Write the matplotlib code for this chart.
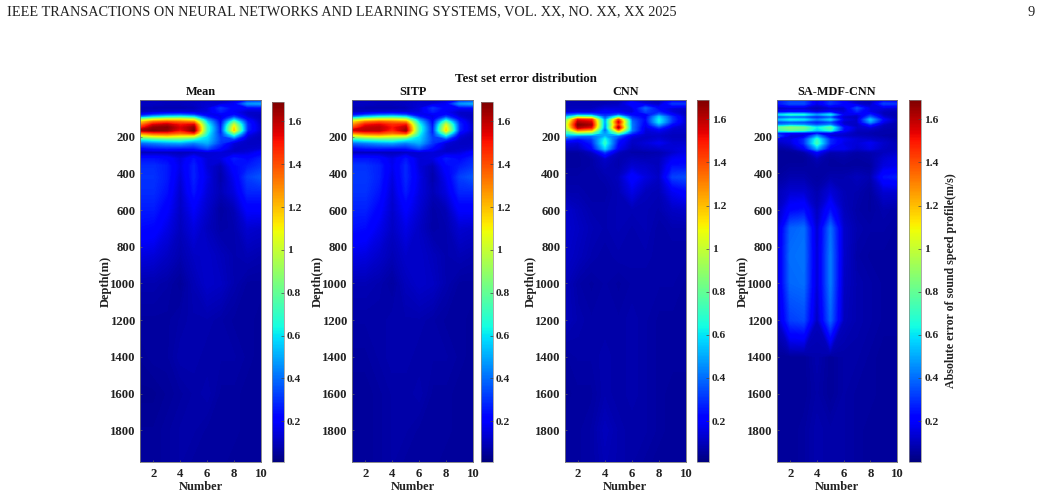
import numpy as np
import matplotlib
matplotlib.use('Agg')
from matplotlib import pyplot as plt
from matplotlib.cm import ScalarMappable
from matplotlib.colors import Normalize

plt.rcParams['font.family'] = ['Liberation Serif', 'DejaVu Serif']

numbers = np.arange(1, 11)
depths = [0, 20, 45, 65, 80, 92, 107, 120, 135, 150, 165, 180, 195, 215, 235, 265, 285,
          320, 360, 420, 500, 600, 700, 850, 1000, 1200, 1400, 1600, 1800, 1973]

mean_err = [
    [.10, .10, .09, .09, .09, .10, .10, .13, .22, .25],
    [.11, .11, .10, .10, .11, .13, .13, .18, .46, .48],
    [.09, .08, .08, .08, .09, .14, .30, .20, .18, .18],
    [.10, .12, .13, .14, .13, .15, .26, .18, .12, .12],
    [.20, .28, .34, .36, .30, .18, .18, .22, .12, .10],
    [.40, .55, .62, .65, .58, .26, .16, .32, .14, .10],
    [.90, 1.05, 1.10, 1.10, 1.02, .44, .18, .55, .20, .10],
    [1.15, 1.35, 1.40, 1.35, 1.30, .56, .20, .78, .25, .10],
    [1.30, 1.55, 1.60, 1.50, 1.55, .65, .22, 1.00, .28, .11],
    [1.45, 1.66, 1.68, 1.55, 1.66, .70, .24, 1.12, .28, .12],
    [1.62, 1.69, 1.66, 1.50, 1.69, .70, .25, 1.16, .27, .12],
    [1.30, 1.40, 1.42, 1.35, 1.45, .65, .26, .85, .20, .10],
    [1.02, 1.12, 1.16, 1.10, 1.08, .60, .30, .58, .15, .10],
    [.62, .68, .72, .74, .64, .56, .32, .30, .12, .10],
    [.38, .42, .46, .48, .42, .50, .30, .14, .11, .11],
    [.20, .24, .25, .24, .24, .34, .22, .12, .12, .13],
    [.09, .09, .09, .09, .10, .13, .14, .12, .14, .20],
    [.24, .24, .22, .15, .24, .14, .15, .26, .22, .27],
    [.29, .29, .26, .16, .27, .14, .09, .22, .26, .30],
    [.30, .30, .26, .14, .27, .16, .07, .18, .32, .36],
    [.29, .29, .24, .12, .25, .14, .09, .15, .28, .28],
    [.26, .26, .20, .11, .19, .12, .06, .09, .20, .20],
    [.23, .22, .16, .10, .15, .10, .07, .08, .13, .12],
    [.15, .14, .11, .08, .11, .12, .10, .08, .09, .08],
    [.08, .08, .07, .05, .09, .12, .11, .08, .06, .06],
    [.06, .06, .06, .07, .08, .08, .07, .06, .06, .05],
    [.05, .06, .06, .08, .08, .07, .07, .07, .06, .05],
    [.04, .04, .05, .06, .07, .08, .06, .06, .05, .05],
    [.05, .05, .06, .07, .07, .06, .06, .06, .05, .05],
    [.05, .05, .06, .07, .06, .06, .06, .05, .05, .05],
]

sitp_err = [
    [.10, .10, .09, .09, .09, .10, .10, .13, .22, .26],
    [.11, .11, .10, .10, .11, .13, .13, .18, .46, .50],
    [.09, .08, .08, .08, .09, .14, .30, .20, .18, .18],
    [.10, .12, .13, .14, .13, .15, .26, .18, .12, .12],
    [.20, .28, .34, .36, .30, .18, .18, .22, .12, .10],
    [.40, .55, .62, .65, .58, .26, .16, .32, .14, .10],
    [.88, 1.02, 1.08, 1.08, 1.00, .44, .18, .55, .20, .10],
    [1.12, 1.32, 1.38, 1.33, 1.28, .56, .20, .78, .25, .10],
    [1.26, 1.50, 1.54, 1.46, 1.50, .65, .22, 1.00, .28, .11],
    [1.38, 1.58, 1.60, 1.50, 1.60, .70, .24, 1.10, .28, .12],
    [1.56, 1.60, 1.60, 1.46, 1.64, .70, .25, 1.14, .27, .12],
    [1.28, 1.38, 1.40, 1.33, 1.42, .65, .26, .85, .20, .10],
    [1.00, 1.10, 1.14, 1.08, 1.06, .60, .30, .58, .15, .10],
    [.62, .68, .72, .74, .64, .56, .32, .30, .12, .10],
    [.38, .42, .46, .48, .42, .50, .30, .14, .11, .11],
    [.20, .24, .25, .24, .24, .34, .22, .12, .12, .13],
    [.09, .09, .09, .09, .10, .13, .14, .12, .14, .20],
    [.25, .25, .23, .16, .25, .14, .15, .26, .22, .27],
    [.30, .30, .27, .17, .28, .14, .09, .22, .26, .30],
    [.31, .31, .27, .15, .28, .16, .07, .18, .32, .36],
    [.30, .30, .25, .13, .26, .15, .09, .15, .28, .28],
    [.27, .27, .21, .12, .20, .13, .07, .09, .20, .20],
    [.24, .23, .17, .11, .16, .11, .07, .08, .13, .12],
    [.16, .15, .12, .09, .12, .12, .10, .08, .09, .08],
    [.09, .09, .08, .06, .10, .12, .11, .08, .06, .06],
    [.07, .07, .07, .08, .08, .08, .07, .06, .06, .05],
    [.06, .06, .07, .08, .08, .07, .07, .07, .06, .05],
    [.05, .05, .06, .07, .07, .08, .06, .06, .05, .05],
    [.05, .05, .06, .07, .07, .06, .06, .06, .05, .05],
    [.05, .05, .06, .07, .06, .06, .06, .05, .05, .05],
]

cnn_err = [
    [.08, .08, .07, .08, .09, .14, .10, .10, .18, .18],
    [.09, .09, .09, .09, .10, .22, .14, .11, .30, .30],
    [.10, .10, .10, .14, .14, .15, .38, .20, .14, .12],
    [.12, .14, .14, .20, .18, .14, .32, .26, .14, .10],
    [.32, .40, .38, .26, .34, .20, .18, .38, .20, .10],
    [.50, .85, .80, .32, .70, .28, .20, .55, .28, .11],
    [.72, 1.50, 1.45, .42, 1.40, .36, .22, .62, .30, .12],
    [.82, 1.60, 1.55, .44, 1.55, .40, .20, .60, .28, .12],
    [.88, 1.68, 1.62, .42, 1.45, .42, .18, .46, .20, .12],
    [.84, 1.60, 1.50, .40, 1.62, .42, .15, .30, .14, .12],
    [.76, 1.30, 1.20, .32, 1.25, .42, .14, .18, .12, .12],
    [.64, .85, .80, .44, .80, .30, .13, .14, .11, .11],
    [.50, .42, .40, .50, .38, .16, .12, .12, .10, .10],
    [.30, .22, .30, .64, .26, .12, .12, .14, .11, .11],
    [.16, .14, .26, .68, .22, .11, .14, .18, .13, .13],
    [.10, .10, .20, .56, .18, .09, .11, .12, .14, .16],
    [.06, .06, .10, .30, .10, .07, .07, .08, .12, .16],
    [.06, .06, .07, .12, .08, .10, .09, .10, .18, .20],
    [.06, .06, .07, .10, .08, .13, .12, .10, .24, .24],
    [.07, .07, .07, .08, .10, .22, .15, .11, .32, .34],
    [.08, .08, .07, .07, .09, .16, .10, .09, .18, .22],
    [.13, .10, .08, .08, .09, .09, .09, .08, .11, .12],
    [.13, .11, .09, .08, .09, .08, .09, .07, .08, .08],
    [.12, .10, .08, .07, .08, .08, .08, .07, .07, .07],
    [.10, .07, .06, .07, .06, .07, .07, .07, .07, .06],
    [.10, .08, .07, .07, .07, .08, .07, .06, .06, .06],
    [.06, .07, .07, .08, .07, .08, .07, .06, .06, .06],
    [.05, .06, .06, .08, .07, .08, .07, .06, .05, .05],
    [.06, .06, .07, .10, .08, .07, .07, .06, .05, .05],
    [.06, .06, .07, .09, .08, .07, .06, .05, .05, .05],
]

sa_err = [
    [.24, .32, .32, .16, .28, .18, .10, .10, .18, .16],
    [.24, .34, .34, .16, .30, .22, .12, .10, .32, .30],
    [.10, .12, .12, .08, .12, .12, .34, .16, .14, .12],
    [.18, .22, .22, .14, .20, .14, .26, .16, .10, .09],
    [.56, .66, .64, .46, .60, .18, .14, .26, .10, .08],
    [.28, .32, .30, .22, .30, .12, .10, .36, .13, .08],
    [.52, .62, .60, .42, .56, .16, .12, .54, .20, .09],
    [.30, .34, .32, .24, .32, .12, .12, .46, .16, .08],
    [.40, .46, .44, .34, .42, .14, .10, .26, .10, .08],
    [.78, .86, .82, .60, .76, .24, .12, .14, .09, .08],
    [.70, .78, .74, .54, .68, .22, .10, .10, .08, .08],
    [.26, .20, .18, .18, .18, .14, .09, .08, .08, .07],
    [.36, .14, .14, .44, .14, .12, .10, .09, .07, .07],
    [.14, .16, .28, .68, .28, .18, .14, .12, .10, .08],
    [.10, .14, .28, .72, .28, .16, .14, .18, .12, .09],
    [.06, .08, .18, .50, .18, .18, .12, .16, .11, .10],
    [.05, .05, .07, .20, .08, .09, .07, .08, .10, .12],
    [.05, .05, .05, .09, .06, .07, .06, .07, .13, .16],
    [.05, .06, .06, .07, .06, .06, .06, .06, .15, .17],
    [.06, .08, .08, .06, .08, .08, .10, .08, .24, .26],
    [.09, .13, .13, .08, .14, .09, .08, .06, .13, .13],
    [.10, .22, .24, .10, .24, .10, .07, .06, .08, .07],
    [.12, .38, .40, .12, .40, .12, .08, .07, .07, .06],
    [.13, .40, .41, .13, .42, .12, .07, .06, .06, .06],
    [.13, .39, .40, .13, .42, .11, .08, .07, .06, .06],
    [.11, .32, .34, .10, .38, .10, .08, .07, .06, .06],
    [.05, .05, .05, .08, .05, .07, .07, .06, .05, .05],
    [.05, .05, .05, .07, .05, .07, .06, .06, .05, .05],
    [.05, .05, .06, .08, .07, .07, .06, .05, .05, .05],
    [.05, .05, .06, .08, .07, .07, .06, .05, .05, .05],
]

titles = ['Mean', 'SITP', 'CNN', 'SA-MDF-CNN']
errors = [mean_err, sitp_err, cnn_err, sa_err]
depth_ticks = [200, 400, 600, 800, 1000, 1200, 1400, 1600, 1800]
number_ticks = [2, 4, 6, 8, 10]
cbar_ticks = [0.2, 0.4, 0.6, 0.8, 1, 1.2, 1.4, 1.6]
err_min, err_max = 0.01, 1.69

W, H = 1041, 498
# panel boxes in pixels: left, right, colorbar left, right, top
boxes = [(140, 261, 272, 283.5, 102),
         (352, 473, 481, 492.5, 102),
         (564.5, 686, 697, 708.5, 100),
         (777, 897, 909, 921, 100)]
TOP, BOTTOM = 100, 462


def px_axes(fig, x0, x1, y0, y1):
    return fig.add_axes([x0 / W, 1 - y1 / H, (x1 - x0) / W, (y1 - y0) / H])


fig = plt.figure(figsize=(W / 100, H / 100), dpi=100)
norm = Normalize(err_min, err_max)
levels = np.linspace(err_min, err_max, 257)

for title, err, (x0, x1, cx0, cx1, ctop) in zip(titles, errors, boxes):
    ax = px_axes(fig, x0, x1, TOP, BOTTOM)
    ax.contourf(numbers, depths, np.array(err), levels=levels, cmap='jet',
                norm=norm, extend='both', antialiased=False)
    ax.set_xlim(1, 10)
    ax.set_ylim(1973, 0)
    ax.set_xticks(number_ticks)
    ax.set_yticks(depth_ticks)
    ax.tick_params(length=1.5, width=0.5, direction='in', color='#666666', pad=3,
                   labelsize=9.2, labelcolor='#222222')
    ax.tick_params(axis='x', pad=4)
    for lab in ax.get_xticklabels() + ax.get_yticklabels():
        lab.set_fontweight('bold')
    for sp in ax.spines.values():
        sp.set_linewidth(0.6)
        sp.set_color('#777777')
    ax.set_title(title, fontsize=8.8, fontweight='bold', pad=3.8, color='#111111')
    ax.set_xlabel('Number', fontsize=9, fontweight='bold', labelpad=1, color='#222222')
    ax.set_ylabel('Depth(m)', fontsize=9, fontweight='bold', labelpad=-1.2, color='#222222')

    cax = px_axes(fig, cx0, cx1, ctop, 462)
    cb = fig.colorbar(ScalarMappable(norm=norm, cmap='jet'), cax=cax, ticks=cbar_ticks,
                      format='%g')
    cb.ax.tick_params(length=2, width=0.5, direction='in', color='#444444', pad=2.5,
                      labelsize=8.2, labelcolor='#222222')
    for lab in cb.ax.get_yticklabels():
        lab.set_fontweight('bold')
    cb.outline.set_linewidth(0.5)
    cb.outline.set_edgecolor('#888888')

cb.set_label('Absolute error of sound speed profile(m/s)', fontsize=8.6,
             fontweight='bold', labelpad=4.5, color='#222222')

fig.text(526 / W, 1 - 79 / H, 'Test set error distribution', fontsize=9.3,
         fontweight='bold', ha='center', va='center', color='#111111')
fig.text(7 / W, 1 - 12 / H,
         'IEEE TRANSACTIONS ON NEURAL NETWORKS AND LEARNING SYSTEMS, VOL. XX, NO. XX, XX 2025',
         fontsize=10.3, ha='left', va='center', color='#222222')
fig.text(1035 / W, 1 - 12 / H, '9', fontsize=10.3, ha='right', va='center', color='#222222')

fig.savefig('out.png', dpi=100)
